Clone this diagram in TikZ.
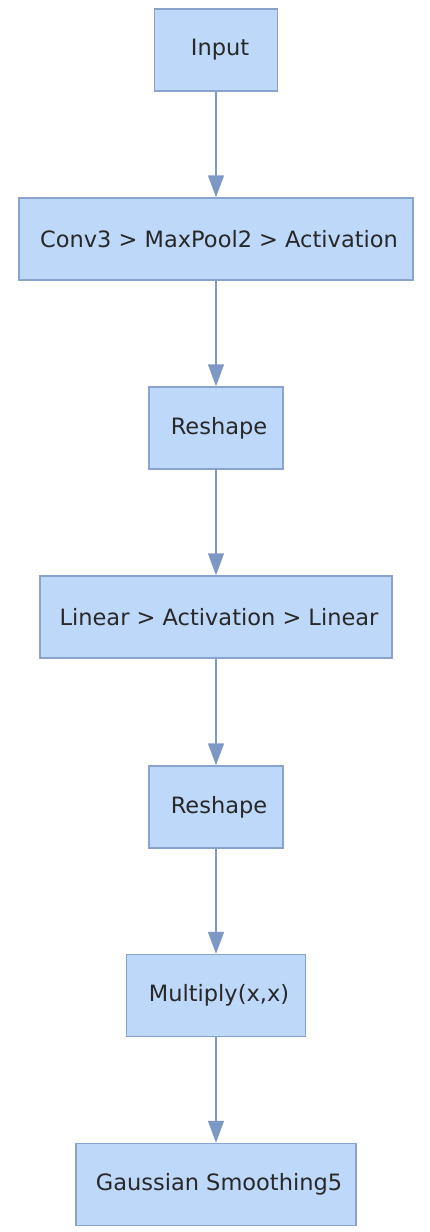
\documentclass[tikz,border=0pt]{standalone}
\usepackage{fontspec}
\setmainfont{DejaVu Sans}
\usetikzlibrary{arrows.meta}
\definecolor{boxfill}{RGB}{190,216,250}
\definecolor{boxline}{RGB}{138,162,206}
\definecolor{arrowc}{RGB}{125,152,196}
\definecolor{txt}{RGB}{40,40,40}
\begin{document}
\begin{tikzpicture}[x=1pt,y=-1pt,
  box/.style={draw=boxline,fill=boxfill,line width=1.5pt,minimum height=82pt,inner sep=0pt,
    font=\fontsize{22.5}{26}\selectfont,text=txt},
  conn/.style={draw=arrowc,line width=1.5pt,-{Triangle[width=16pt,length=22pt]}}]
\useasboundingbox (0,0) rectangle (429,1232);
\node[box,minimum width=123pt] (input) at (216,50) {\hspace*{8pt}Input};
\node[box,minimum width=394pt] (conv) at (216,239) {\hspace*{6pt}Conv3 > MaxPool2 > Activation};
\node[box,minimum width=134pt] (reshape1) at (216,428) {\hspace*{6pt}Reshape};
\node[box,minimum width=352pt] (linear) at (216,617) {\hspace*{6pt}Linear > Activation > Linear};
\node[box,minimum width=134pt] (reshape2) at (216,807) {\hspace*{6pt}Reshape};
\node[box,minimum width=179pt] (mult) at (216,995.5) {\hspace*{6pt}Multiply(x,x)};
\node[box,minimum width=280pt] (gauss) at (216,1184.5) {\hspace*{6pt}Gaussian Smoothing5};
\draw[conn] (input) -- (conv);
\draw[conn] (conv) -- (reshape1);
\draw[conn] (reshape1) -- (linear);
\draw[conn] (linear) -- (reshape2);
\draw[conn] (reshape2) -- (mult);
\draw[conn] (mult) -- (gauss);
\end{tikzpicture}
\end{document}
